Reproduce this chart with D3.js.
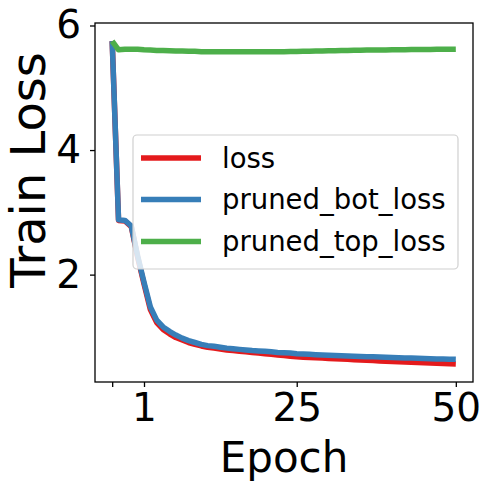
<!DOCTYPE html>
<html><head><meta charset="utf-8">
<script src="https://cdn.jsdelivr.net/npm/d3@7"></script>
<style>html,body{margin:0;padding:0;background:#fff;}svg{display:block;font-family:"DejaVu Sans",sans-serif;}</style>
</head><body>
<svg id="c" width="491" height="491"></svg>
<script>
const epochs = [-4,-3,-2,-1,0,1,2,3,4,5,6,7,8,9,10,11,12,13,14,15,16,17,18,19,20,21,22,23,24,25,26,27,28,29,30,31,32,33,34,35,36,37,38,39,40,41,42,43,44,45,46,47,48,49,50];
const loss = [5.75,2.87,2.86,2.77,2.28,1.85,1.44,1.23,1.12,1.05,0.99,0.95,0.91,0.88,0.855,0.835,0.82,0.805,0.79,0.78,0.77,0.76,0.75,0.74,0.73,0.72,0.71,0.70,0.69,0.68,0.675,0.67,0.665,0.66,0.655,0.65,0.645,0.64,0.635,0.63,0.625,0.62,0.615,0.61,0.605,0.60,0.597,0.593,0.59,0.586,0.582,0.578,0.574,0.57,0.566];
const prunedBot = [5.75,2.88,2.87,2.78,2.30,1.88,1.48,1.27,1.16,1.09,1.03,0.98,0.94,0.91,0.88,0.86,0.85,0.835,0.82,0.81,0.80,0.79,0.78,0.775,0.77,0.76,0.75,0.745,0.74,0.73,0.725,0.72,0.715,0.71,0.705,0.70,0.697,0.693,0.69,0.686,0.683,0.68,0.677,0.673,0.67,0.666,0.663,0.66,0.657,0.653,0.65,0.647,0.644,0.642,0.64];
const prunedTop = [5.75,5.61,5.62,5.62,5.62,5.61,5.605,5.60,5.60,5.595,5.59,5.59,5.585,5.585,5.58,5.58,5.58,5.58,5.58,5.58,5.58,5.58,5.58,5.58,5.58,5.58,5.58,5.58,5.582,5.584,5.586,5.588,5.59,5.592,5.594,5.596,5.598,5.60,5.602,5.604,5.605,5.606,5.607,5.608,5.61,5.611,5.612,5.613,5.614,5.615,5.616,5.617,5.618,5.619,5.62];
const seriesNames = ["loss","pruned_bot_loss","pruned_top_loss"];
const seriesColors = ["#e41a1c","#377eb8","#4daf4a"];
const xTicks = [-4,1,25,50];
const xTickLabels = ["","1","25","50"];
const yTicks = [2,4,6];

const svg = d3.select("#c");
const L=95,R=473,T=23,B=382;
const x = d3.scaleLinear().domain([-6.7,52.7]).range([L,R]);
const y = d3.scaleLinear().domain([0.276,6.04]).range([B,T]);

const data = [loss,prunedBot,prunedTop];
const line = d3.line().x((d,i)=>x(epochs[i])).y(d=>y(d));
data.forEach((s,k)=>{
  svg.append("path").attr("d",line(s)).attr("fill","none")
    .attr("stroke",seriesColors[k]).attr("stroke-width",5.5)
    .attr("stroke-linejoin","round").attr("stroke-linecap","butt");
});

// frame
svg.append("rect").attr("x",L).attr("y",T).attr("width",R-L).attr("height",B-T)
  .attr("fill","none").attr("stroke","#000").attr("stroke-width",1.3);

// x axis
const xa = svg.append("g").attr("transform",`translate(0,${B})`)
  .call(d3.axisBottom(x).tickValues(xTicks).tickFormat((d,i)=>xTickLabels[i]).tickSize(5).tickPadding(6));
xa.select(".domain").remove();
xa.selectAll("line").attr("stroke-width",1.3);
xa.selectAll("text").attr("font-size",39).attr("font-family","DejaVu Sans").attr("fill","#000");

const ya = svg.append("g").attr("transform",`translate(${L},0)`)
  .call(d3.axisLeft(y).tickValues(yTicks).tickFormat(d3.format("d")).tickSize(5).tickPadding(9));
ya.select(".domain").remove();
ya.selectAll("line").attr("stroke-width",1.3);
ya.selectAll("text").attr("font-size",39).attr("font-family","DejaVu Sans").attr("fill","#000");

svg.append("text").attr("x",(L+R)/2).attr("y",472).attr("text-anchor","middle")
  .attr("font-size",42).text("Epoch");
svg.append("text").attr("transform","translate(45,170) rotate(-90)").attr("text-anchor","middle")
  .attr("font-size",48).text("Train Loss");

// legend
const lg = svg.append("g");
lg.append("rect").attr("x",133).attr("y",135).attr("width",325).attr("height",134).attr("rx",4)
  .attr("fill","#fff").attr("fill-opacity",0.8).attr("stroke","#d0d0d0").attr("stroke-width",1.2);
const ly = [158,199.5,241.5];
seriesNames.forEach((n,k)=>{
  lg.append("line").attr("x1",141).attr("x2",201).attr("y1",ly[k]).attr("y2",ly[k])
    .attr("stroke",seriesColors[k]).attr("stroke-width",5.5);
  lg.append("text").attr("x",222).attr("y",ly[k]+9.5).attr("font-size",27.5).text(n);
});
</script>
</body></html>
